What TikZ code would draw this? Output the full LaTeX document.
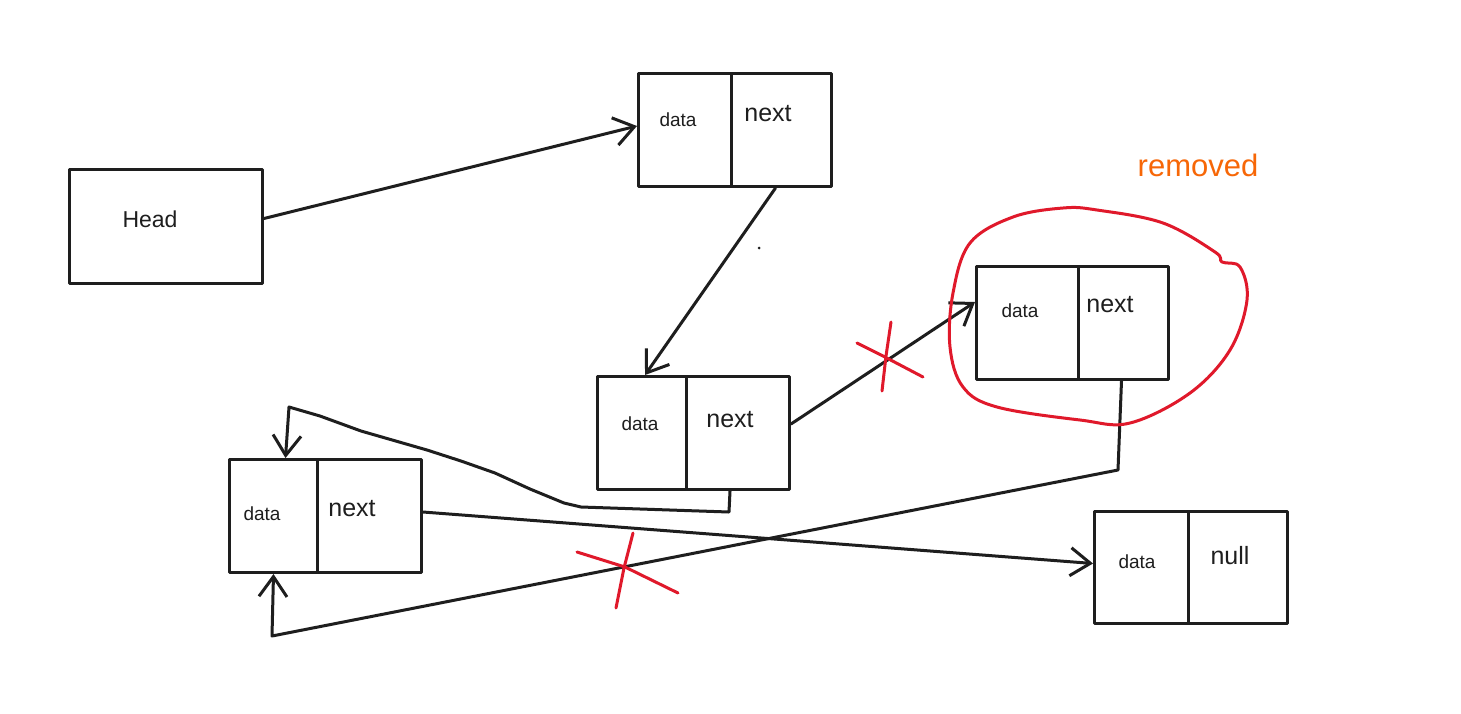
\documentclass[tikz,border=0pt]{standalone}
\usepackage{fontspec}
\setmainfont{Liberation Sans}
\usetikzlibrary{arrows.meta,calc}
\definecolor{ink}{HTML}{1E1E1E}
\definecolor{redx}{HTML}{E0192B}
\definecolor{orangex}{HTML}{F76707}
\begin{document}
\begin{tikzpicture}[x=1pt,y=-1pt,
  ln/.style={line width=3pt, draw=ink, line cap=round, line join=round},
  cell/.style={ln, rectangle, inner sep=0pt, anchor=north west},
  arr/.style={ln, -{Straight Barb[length=20pt,width=28pt,line width=3pt]}},
  redline/.style={line width=3pt, draw=redx, line cap=round, line join=round},
  txtdata/.style={text=ink, font=\fontsize{19}{22}\selectfont},
  txtnext/.style={text=ink, font=\fontsize{25}{28}\selectfont},
]
\useasboundingbox[fill=white] (0,0) rectangle (1461,713);

% head
\node[cell, minimum width=193pt, minimum height=114pt] (head) at (68,168) {};
\node[text=ink, font=\fontsize{23}{26}\selectfont] (headt) at (150,219) {Head};

% node 1
\node[cell, minimum width=93pt, minimum height=113pt] (n1d) at (637,72) {};
\node[cell, minimum width=100pt, minimum height=113pt] (n1n) at (730,72) {};
\node[txtdata] (n1dt) at (678,120) {data};
\node[txtnext] (n1nt) at (768,114) {next};

% node 2
\node[cell, minimum width=89pt, minimum height=113pt] (n2d) at (596,375) {};
\node[cell, minimum width=103pt, minimum height=113pt] (n2n) at (685,375) {};
\node[txtdata] (n2dt) at (640,424) {data};
\node[txtnext] (n2nt) at (730,420) {next};

% node 3 (removed)
\node[cell, minimum width=102pt, minimum height=113pt] (n3d) at (975,265) {};
\node[cell, minimum width=90pt, minimum height=113pt] (n3n) at (1077,265) {};
\node[txtdata] (n3dt) at (1020,311) {data};
\node[txtnext] (n3nt) at (1110,305) {next};

% node 4
\node[cell, minimum width=88pt, minimum height=113pt] (n4d) at (228,458) {};
\node[cell, minimum width=104pt, minimum height=113pt] (n4n) at (316,458) {};
\node[txtdata] (n4dt) at (262,514) {data};
\node[txtnext] (n4nt) at (352,509) {next};

% node 5
\node[cell, minimum width=94pt, minimum height=112pt] (n5d) at (1093,510) {};
\node[cell, minimum width=99pt, minimum height=112pt] (n5n) at (1187,510) {};
\node[txtdata] (n5dt) at (1137,562) {data};
\node[txtnext] (n5nt) at (1230,556) {null};

% removed label
\node[text=orangex, font=\fontsize{31}{34}\selectfont] (rem) at (1198,165) {removed};

% connectors
\draw[arr] ([yshift=8pt]head.east) -- ([yshift=4pt]n1d.west);
\draw[arr] ([xshift=-6pt]n1n.south) -- ([xshift=3pt]n2d.north);
\draw[arr] ([yshift=9pt]n2n.east) -- ([yshift=21pt]n3d.west);
\draw[arr] ([yshift=4pt]n4n.east) -- ([yshift=4pt]n5d.west);

\coordinate (b1) at (729,512);
\coordinate (b2) at (581,507);
\coordinate (b3) at (564,503);
\coordinate (b4) at (530,489);
\coordinate (b5) at (495,473);
\coordinate (b6) at (461,461);
\coordinate (b7) at (427,450);
\coordinate (b8) at (361,431);
\coordinate (b9) at (320,416);
\coordinate (b10) at (289,407);
\draw[arr] ([xshift=-8pt]n2n.south) -- (b1) -- (b2) -- (b3) -- (b4) -- (b5) -- (b6) -- (b7) -- (b8) -- (b9) -- (b10) -- ([xshift=12pt]n4d.north);

\coordinate (c1) at (1118,470);
\coordinate (c2) at (272,636);
\draw[arr] ([xshift=-2pt]n3n.south) -- (c1) -- (c2) -- (n4d.south);

% stray dot
\fill[ink] (759,248) circle (1.5pt);

% red circle around removed node
\draw[redline] plot[smooth cycle, tension=0.6] coordinates {
  (1097,210) (1163,223) (1215,252) (1222,262) (1240,267) (1247,300)
  (1230,350) (1190,393) (1130,423) (1080,420) (997,407) (963,387)
  (950,347) (953,293) (970,243) (1013,217) (1063,208)};

% red crosses
\draw[redline] (857,343) -- (883,356) -- (923,377);
\draw[redline] (891,322) -- (886,356) -- (882,391);
\draw[redline] (577,552) -- (625,567) -- (678,593);
\draw[redline] (633,533) -- (624,568) -- (616,608);
\end{tikzpicture}
\end{document}
